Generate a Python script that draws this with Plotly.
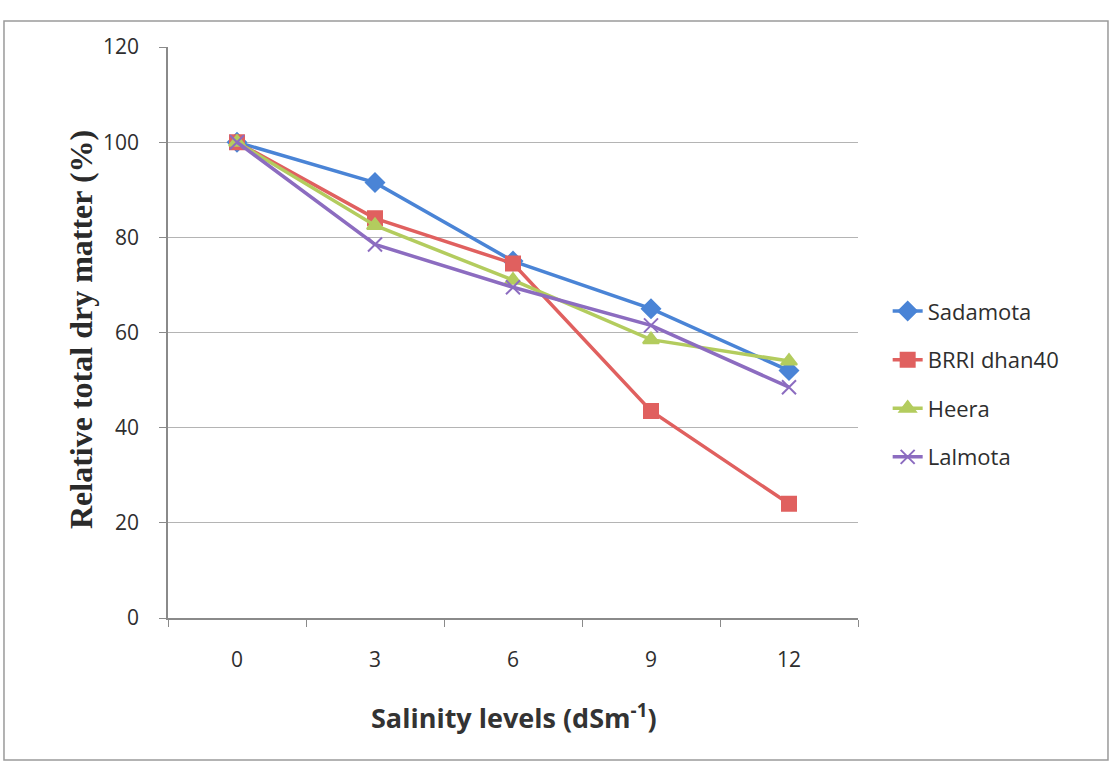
import plotly.graph_objects as go

# Salinity levels (dS m^-1) and relative total dry matter (%) per variety
salinity = ["0", "3", "6", "9", "12"]
sadamota = [100, 91.5, 75, 65, 52]
brri_dhan40 = [100, 84, 74.5, 43.5, 24]
heera = [100, 82.5, 71, 58.5, 54]
lalmota = [100, 78.5, 69.5, 61.5, 48.5]

series = [
    ("Sadamota", sadamota, "#4A84D6", "diamond", 14),
    ("BRRI dhan40", brri_dhan40, "#E0605F", "square", 14),
    ("Heera", heera, "#B3CC5E", "triangle-up", 14),
    ("Lalmota", lalmota, "#8C6CC0", "x-thin", 14),
]

fig = go.Figure()
for i, (name, vals, color, symbol, size) in enumerate(series):
    fig.add_trace(go.Scatter(
        x=salinity, y=vals, name=name, mode="lines+markers",
        legendgroup=f"g{i}",
        line=dict(color=color, width=3.5),
        marker=dict(symbol=symbol, size=size, color=color,
                    line=dict(color=color, width=2)),
    ))

tick_font = dict(family="Open Sans, Noto Sans, sans-serif", size=21, color="#2e2e2e")

fig.update_layout(
    width=1114, height=765,
    margin=dict(l=168, r=256, t=47, b=147),
    paper_bgcolor="white", plot_bgcolor="white",
    showlegend=True,
    legend=dict(
        x=1.043, y=0.574, xanchor="left", yanchor="top",
        font=dict(family="Open Sans, Noto Sans, sans-serif", size=22, color="#2e2e2e"),
        traceorder="grouped", tracegroupgap=17,
        bgcolor="rgba(0,0,0,0)",
    ),
    xaxis=dict(
        type="category", tickson="boundaries", range=[-0.5, 4.5],
        showgrid=False, showline=True, linecolor="#8a8a8a", linewidth=1.5,
        ticks="outside", ticklen=7, tickcolor="#8a8a8a", tickwidth=1.3,
        tickfont=tick_font, ticklabelstandoff=22,
        zeroline=False,
    ),
    yaxis=dict(
        range=[0, 120], dtick=20,
        showgrid=True, gridcolor="#b4b4b4", gridwidth=1.4,
        showline=True, linecolor="#8a8a8a", linewidth=1.5,
        ticks="outside", ticklen=7, tickcolor="#8a8a8a", tickwidth=1.3,
        tickfont=tick_font, ticklabelstandoff=16,
        zeroline=False,
    ),
    annotations=[
        dict(text="<b>Relative total dry matter (%)</b>", textangle=-90,
             xref="paper", yref="paper", x=-0.127, y=0.505,
             xanchor="center", yanchor="middle", showarrow=False,
             font=dict(family="Liberation Serif, Times New Roman, serif",
                       size=32, color="#2a2a2a")),
        dict(text="<b>Salinity levels (dSm<sup>-1</sup>)</b>",
             xref="paper", yref="paper", x=0.502, y=-0.172,
             xanchor="center", yanchor="middle", showarrow=False,
             font=dict(family="Open Sans, Noto Sans, sans-serif",
                       size=27, color="#333333")),
    ],
    shapes=[
        dict(type="rect", xref="paper", yref="paper",
             x0=-0.2377, x1=1.3623, y0=-0.2487, y1=1.0455,
             line=dict(color="#9a9a9a", width=1.5), fillcolor="rgba(0,0,0,0)",
             layer="below"),
    ],
)

fig.write_html("out.html")
